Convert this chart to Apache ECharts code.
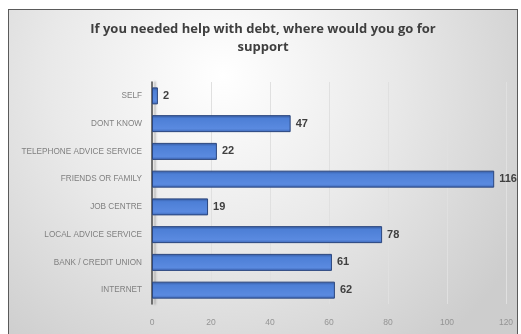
<!DOCTYPE html>
<html>
<head>
<meta charset="utf-8">
<script src="https://cdn.jsdelivr.net/npm/echarts@6/dist/echarts.min.js"></script>
<style>
  html, body { margin: 0; padding: 0; background: #ffffff; }
  #frame { position: absolute; left: 8px; top: 9px; width: 510px; height: 330px;
           border: 1px solid #5a5a5a; box-sizing: border-box; overflow: hidden; }
  #chart { width: 100%; height: 100%; }
</style>
</head>
<body>
<div id="frame"><div id="chart"></div></div>
<script>
// Survey answers, listed bottom to top as the category axis draws them
const categories = [
  'INTERNET',
  'BANK / CREDIT UNION',
  'LOCAL ADVICE SERVICE',
  'JOB CENTRE',
  'FRIENDS OR FAMILY',
  'TELEPHONE ADVICE SERVICE',
  'DONT KNOW',
  'SELF'
];
const responses = [62, 61, 78, 19, 116, 22, 47, 2];
const xTicks = [0, 20, 40, 60, 80, 100, 120];

const chart = echarts.init(document.getElementById('chart'));

chart.setOption({
  animation: false,
  backgroundColor: {
    type: 'radial', x: 0.42, y: 0.2, r: 1.05,
    colorStops: [
      { offset: 0, color: '#ffffff' },
      { offset: 0.5, color: '#e9e9e9' },
      { offset: 1, color: '#cdcdcd' }
    ]
  },
  title: {
    text: 'If you needed help with debt, where would you go for\nsupport',
    left: 'center',
    top: 5,
    textStyle: {
      fontFamily: 'Open Sans',
      fontWeight: 'bold',
      fontSize: 13,
      color: '#3f3f3f',
      lineHeight: 18
    }
  },
  grid: { left: 143, right: 11, top: 72, bottom: 34, containLabel: false },
  xAxis: {
    type: 'value',
    min: xTicks[0],
    max: xTicks[xTicks.length - 1],
    interval: 20,
    axisLine: { show: false },
    axisTick: { show: false },
    axisLabel: { color: '#949494', fontSize: 8.5, fontFamily: 'Liberation Sans', margin: 14 },
    splitLine: { show: true, lineStyle: { color: '#e0e0e0', width: 1 } }
  },
  yAxis: {
    type: 'category',
    data: categories,
    axisLine: {
      show: true,
      lineStyle: {
        color: '#4a4a4a', width: 1.5,
        shadowColor: 'rgba(120,120,120,0.55)', shadowOffsetX: 3, shadowBlur: 2
      }
    },
    axisTick: { show: false },
    axisLabel: {
      color: '#808080', fontSize: 8.2, fontFamily: 'Liberation Sans', margin: 10
    },
    splitArea: { show: false }
  },
  series: [{
    type: 'bar',
    data: responses,
    barWidth: 17,
    itemStyle: {
      color: {
        type: 'linear', x: 0, y: 0, x2: 0, y2: 1,
        colorStops: [
          { offset: 0, color: '#34589e' },
          { offset: 0.2, color: '#4d7fd6' },
          { offset: 0.8, color: '#5a8ae0' },
          { offset: 1, color: '#3d66b4' }
        ]
      },
      borderColor: '#2b467e',
      borderWidth: 1
    },
    label: {
      show: true,
      position: 'right',
      distance: 5,
      color: '#404040',
      fontWeight: 'bold',
      fontSize: 11,
      fontFamily: 'Liberation Sans'
    }
  }]
});
</script>
</body>
</html>
